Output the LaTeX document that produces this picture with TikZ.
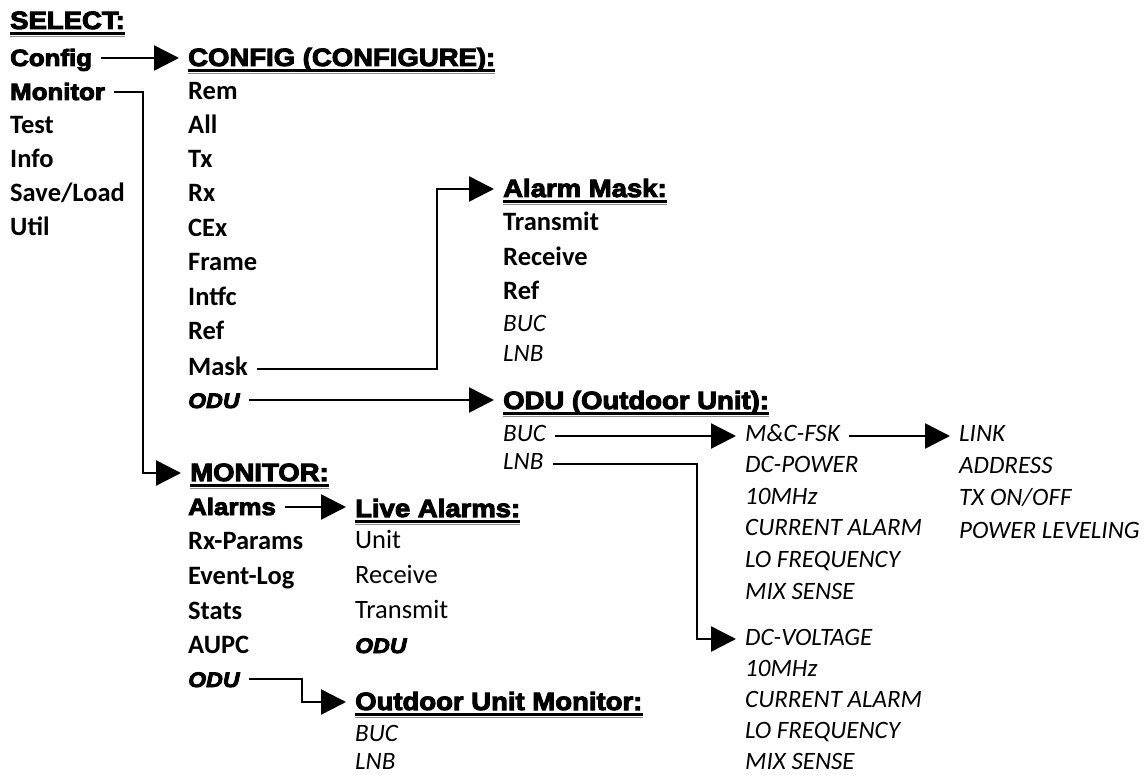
\documentclass[tikz,border=0pt]{standalone}
\usepackage{fontspec}
\setmainfont{Carlito}
\newfontfamily\heavy[FakeStretch=1.1,BoldFeatures={FakeBold=4},BoldItalicFeatures={FakeBold=4}]{Liberation Sans}
\usetikzlibrary{arrows.meta}
\tikzset{
  x=1pt,y=-1pt,
  base/.style={anchor=base west,inner sep=0pt,text depth=0pt},
  hdr/.style={base,text height=16pt,font=\heavy\bfseries\fontsize{25}{30}\selectfont},
  hvy/.style={base,text height=16pt,font=\heavy\bfseries\fontsize{23.5}{30}\selectfont},
  hodu/.style={base,text height=16pt,font=\heavy\bfseries\itshape\fontsize{21}{30}\selectfont},
  itm/.style={base,text height=14pt,font=\bfseries\fontsize{26.5}{30}\selectfont},
  itr/.style={base,text height=14pt,font=\fontsize{26.5}{30}\selectfont},
  iti/.style={base,text height=12pt,font=\itshape\fontsize{25}{30}\selectfont},
  conn/.style={line width=2.5pt,shorten <=9pt,shorten >=9pt,-{Triangle[length=25pt,width=25pt]}},
  ul/.style={line width=2.5pt},
  ulg/.style={line width=1.2pt,black!45},
}
\newcommand\hul[1]{%
  \draw[ul] ([yshift=-4.5pt]#1.base west) -- ([yshift=-4.5pt]#1.base east);
  \draw[ulg] ([yshift=-7.5pt]#1.base west) -- ([yshift=-7.5pt]#1.base east);}
\begin{document}
\begin{tikzpicture}
\useasboundingbox (0,0) rectangle (1144,775);
% left column
\node[hdr] (select) at (10,29) {SELECT:};
\node[hvy] (config) at (10,66) {Config};
\node[hvy] (monitor) at (10,100) {Monitor};
\node[itm] (test) at (10,134) {Test};
\node[itm] (info) at (10,168) {Info};
\node[itm] (save) at (10,202) {Save/Load};
\node[itm] (util) at (10,236) {Util};
% config column
\node[hdr] (cfg) at (188,66) {CONFIG (CONFIGURE):};
\node[itm] (rem) at (188,100) {Rem};
\node[itm] (all) at (188,134) {All};
\node[itm] (tx) at (188,168) {Tx};
\node[itm] (rx) at (188,202) {Rx};
\node[itm] (cex) at (188,237) {CEx};
\node[itm] (frame) at (188,271) {Frame};
\node[itm] (intfc) at (188,306) {Intfc};
\node[itm] (ref) at (188,340) {Ref};
\node[itm] (mask) at (188,376) {Mask};
\node[hodu] (odua) at (188,408) {ODU};
% monitor column
\node[hdr] (monhdr) at (190,481) {MONITOR:};
\node[hvy] (alarms) at (188,515) {Alarms};
\node[itm] (rxp) at (188,549) {Rx-Params};
\node[itm] (evl) at (188,584) {Event-Log};
\node[itm] (stats) at (188,619) {Stats};
\node[itm] (aupc) at (188,653) {AUPC};
\node[hodu] (odub) at (188,687) {ODU};
% alarm mask column
\node[hdr] (amhdr) at (503,197) {Alarm Mask:};
\node[itm] (amtx) at (503,231) {Transmit};
\node[itm] (amrx) at (503,266) {Receive};
\node[itm] (amref) at (503,300) {Ref};
\node[iti] (ambuc) at (503,332) {BUC};
\node[iti] (amlnb) at (503,362) {LNB};
% ODU column
\node[hdr] (oduhdr) at (503,409) {ODU (Outdoor Unit):};
\node[iti] (buc) at (503,442) {BUC};
\node[iti] (lnb) at (503,470) {LNB};
% live alarms column
\node[hdr] (lahdr) at (355,517) {Live Alarms:};
\node[itr] (unit) at (355,548) {Unit};
\node[itr] (larx) at (355,583) {Receive};
\node[itr] (latx) at (355,618) {Transmit};
\node[hodu] (laodu) at (355,653) {ODU};
\node[hdr] (oumhdr) at (355,710) {Outdoor Unit Monitor:};
\node[iti] (oumbuc) at (355,741) {BUC};
\node[iti] (oumlnb) at (355,769) {LNB};
% BUC column
\node[iti] (mc) at (745,442) {M\&C-FSK};
\node[iti] (dcp) at (745,473) {DC-POWER};
\node[iti] (tenb) at (745,505) {10MHz};
\node[iti] (curb) at (745,536) {CURRENT ALARM};
\node[iti] (lob) at (745,567) {LO FREQUENCY};
\node[iti] (mixb) at (745,599) {MIX SENSE};
\node[iti] (dcv) at (745,645) {DC-VOLTAGE};
\node[iti] (tenl) at (745,676) {10MHz};
\node[iti] (curl) at (745,707) {CURRENT ALARM};
\node[iti] (lol) at (745,738) {LO FREQUENCY};
\node[iti] (mixl) at (745,769) {MIX SENSE};
% M&C column
\node[iti] (link) at (959,442) {LINK};
\node[iti] (addr) at (959,474) {ADDRESS};
\node[iti] (txon) at (959,506) {TX ON/OFF};
\node[iti] (pwr) at (959,538) {POWER LEVELING};
% underlines
\hul{select}\hul{cfg}\hul{monhdr}\hul{amhdr}\hul{oduhdr}\hul{lahdr}\hul{oumhdr}
% elbow columns
\coordinate (v1) at (143,0);
\coordinate (v2) at (437,0);
\coordinate (v3) at (697,0);
\coordinate (v4) at (302,0);
% connectors
\draw[conn] (config.east) -- (config.east -| cfg.west);
\draw[conn] (monitor.east) -| (v1 |- monhdr.west) -- (monhdr.west);
\draw[conn] (mask.east) -| (v2 |- amhdr.west) -- (amhdr.west);
\draw[conn] (odua.east) -- (odua.east -| oduhdr.west);
\draw[conn] (buc.east) -- (buc.east -| mc.west);
\draw[conn] (lnb.east) -| (v3 |- dcv.west) -- (dcv.west);
\draw[conn] (mc.east) -- (mc.east -| link.west);
\draw[conn] (alarms.east) -- (alarms.east -| lahdr.west);
\draw[conn] (odub.east) -| (v4 |- oumhdr.west) -- (oumhdr.west);
\end{tikzpicture}
\end{document}
